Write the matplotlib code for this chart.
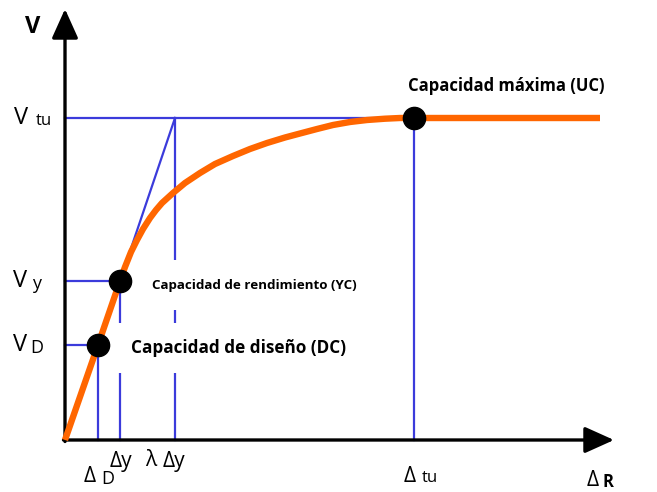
import matplotlib
matplotlib.use("Agg")
import matplotlib.pyplot as plt

# ─────────────────────────────────────────────
# Data (arbitrary units, origin at the axes corner)
# ─────────────────────────────────────────────

# capacity curve
curve_x = [0, 33, 55, 60, 66, 72, 78, 85, 91, 97, 108, 120, 135, 150,
           168, 185, 202, 220, 235, 252, 268, 285, 302, 320, 335, 349, 535]
curve_y = [0, 95, 159, 173, 188, 200, 211, 222, 230, 237, 247, 257, 267,
           276, 284, 291, 297, 302.5, 306.5, 311, 315, 318, 320, 321.3,
           322, 322, 322]

# key displacements
d_D = 33
d_y = 55
lam_d_y = 110
d_tu = 349

# key forces
V_D = 95
V_y = 159
V_tu = 322

# performance points
point_x = [d_D, d_y, d_tu]
point_y = [V_D, V_y, V_tu]

BLUE = "#3b3bdb"
ORANGE = "#ff6600"

plt.rcParams["font.family"] = ["Open Sans", "DejaVu Sans"]

fig = plt.figure(figsize=(6.57, 4.92), dpi=100)
ax = fig.add_axes([0, 0, 1, 1])
ax.set_xlim(-65, 592)
ax.set_ylim(-52, 440)
ax.axis("off")

# ─────────────────────────────────────────────
# Axes with arrows
# ─────────────────────────────────────────────
arrow = dict(arrowstyle="-|>,head_length=1.0,head_width=0.45",
             lw=2.4, color="black", mutation_scale=18,
             shrinkA=0, shrinkB=0)
ax.annotate("", xy=(0, 431), xytext=(0, -1.5), arrowprops=arrow, zorder=3)
ax.annotate("", xy=(549, 0), xytext=(-1.5, 0), arrowprops=arrow, zorder=3)

# ─────────────────────────────────────────────
# Reference lines
# ─────────────────────────────────────────────
ax.plot([0, d_D], [V_D, V_D], color=BLUE, lw=1.6, zorder=2)
ax.plot([0, d_y], [V_y, V_y], color=BLUE, lw=1.6, zorder=2)
ax.plot([0, d_tu], [V_tu, V_tu], color=BLUE, lw=1.6, zorder=2)

ax.plot([d_D, d_D], [0, V_D], color=BLUE, lw=1.6, zorder=2)
ax.plot([d_y, d_y], [0, V_y], color=BLUE, lw=1.6, zorder=2)
ax.plot([lam_d_y, lam_d_y], [0, V_tu], color=BLUE, lw=1.6, zorder=2)
ax.plot([d_tu, d_tu], [0, V_tu], color=BLUE, lw=1.6, zorder=2)

# elastic slope extended up to V_tu
ax.plot([d_y, lam_d_y], [V_y, V_tu], color=BLUE, lw=1.6, zorder=2)

# ─────────────────────────────────────────────
# Capacity curve and points
# ─────────────────────────────────────────────
ax.plot(curve_x, curve_y, color=ORANGE, lw=4.6,
        solid_joinstyle="round", solid_capstyle="butt", zorder=5)
ax.plot(point_x, point_y, "o", color="black", markersize=16, zorder=6)

# ─────────────────────────────────────────────
# Labels
# ─────────────────────────────────────────────
ax.text(-32, 413, "V", fontsize=17, fontweight="bold",
        ha="center", va="center")

ax.text(-44, V_tu, "V", fontsize=17, ha="center", va="center")
ax.text(-21, V_tu - 3, "tu", fontsize=12, ha="center", va="center")
ax.text(-45, V_y, "V", fontsize=17, ha="center", va="center")
ax.text(-28, V_y - 3, "y", fontsize=13, ha="center", va="center")
ax.text(-45, V_D, "V", fontsize=17, ha="center", va="center")
ax.text(-28, V_D - 3, "D", fontsize=13, ha="center", va="center")

ax.text(25, -36, "Δ", fontsize=15, ha="center", va="center")
ax.text(43, -39, "D", fontsize=13, ha="center", va="center")
ax.text(45, -21, "Δy", fontsize=15, ha="left", va="center")
ax.text(86, -20, "λ", fontsize=15, ha="center", va="center")
ax.text(98, -21, "Δy", fontsize=15, ha="left", va="center")
ax.text(d_tu - 4, -36, "Δ", fontsize=15, ha="center", va="center")
ax.text(d_tu + 16, -38, "tu", fontsize=12, ha="center", va="center")
ax.text(528, -40, "Δ", fontsize=15, ha="center", va="center")
ax.text(543, -42, "R", fontsize=12, fontweight="bold",
        ha="center", va="center")

ax.text(441, 354, "Capacidad máxima (UC)", fontsize=12,
        fontweight="bold", ha="center", va="center")
ax.text(87, V_y - 4, "Capacidad de rendimiento (YC)", fontsize=9.6,
        fontweight="bold", ha="left", va="center", zorder=4,
        bbox=dict(boxstyle="square,pad=1.4", fc="white", ec="none"))
ax.text(66, 92, "Capacidad de diseño (DC)", fontsize=12.3,
        fontweight="bold", ha="left", va="center", zorder=4,
        bbox=dict(boxstyle="square,pad=0.95", fc="white", ec="none"))

fig.savefig("out.png", dpi=100, facecolor="white")
